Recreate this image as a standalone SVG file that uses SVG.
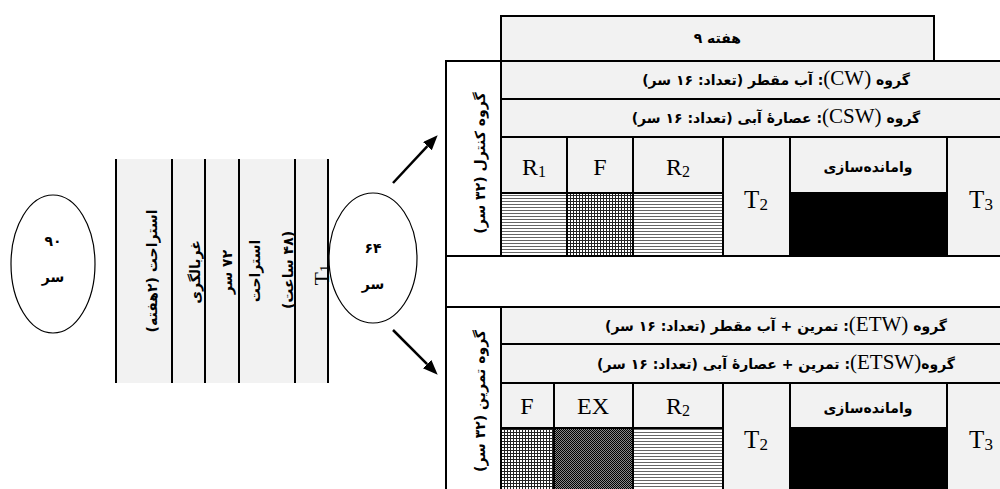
<svg xmlns="http://www.w3.org/2000/svg" width="1000" height="489" viewBox="0 0 1000 489">
<style>
.fa{font-family:"DejaVu Sans",sans-serif;font-weight:bold;font-size:14px;fill:#000}
.lat{font-family:"Liberation Serif",serif;font-weight:normal;fill:#000}
.cell{fill:#f2f2f2;stroke:#000;stroke-width:2}
.wcell{fill:#fff;stroke:#000;stroke-width:2}
.blk{fill:#000;stroke:#000;stroke-width:2}
.ln{stroke:#000;stroke-width:2;fill:none}
.ell{fill:#fff;stroke:#000;stroke-width:1.2}
.arr{stroke:#000;stroke-width:2.5;fill:none}
.mid{text-anchor:middle}
</style>
<defs>
<pattern id="hz" width="4" height="3" patternUnits="userSpaceOnUse"><rect width="4" height="3" fill="#fff"/><rect width="4" height="1" fill="#666"/></pattern>
<pattern id="grid" width="3" height="3" patternUnits="userSpaceOnUse"><rect width="3" height="3" fill="#fff"/><rect width="3" height="1" fill="#222"/><rect width="1" height="3" fill="#222"/></pattern>
<pattern id="chk" width="2" height="2" patternUnits="userSpaceOnUse"><rect width="2" height="2" fill="#888"/><rect width="1" height="1" fill="#000"/><rect x="1" y="1" width="1" height="1" fill="#000"/></pattern>
<marker id="ah" markerUnits="userSpaceOnUse" markerWidth="16" markerHeight="14" refX="0" refY="6" orient="auto"><path d="M0,0 L15,6 L0,12 z" fill="#000"/></marker>
</defs>

<g id="node-90">
<ellipse class="ell" cx="53" cy="264" rx="42" ry="69"/>
<text class="fa mid" x="53" y="246" font-size="16">۹۰</text>
<text class="fa mid" x="53" y="282" font-size="16">سر</text>
</g>

<g id="node-strip">
<rect x="116" y="159" width="212" height="224" fill="#f2f2f2"/>
<line class="ln" x1="116" y1="159" x2="116" y2="383"/>
<line class="ln" x1="172" y1="159" x2="172" y2="383"/>
<line class="ln" x1="205" y1="159" x2="205" y2="383"/>
<line class="ln" x1="239" y1="159" x2="239" y2="383"/>
<line class="ln" x1="295" y1="159" x2="295" y2="383"/>
<line class="ln" x1="328" y1="159" x2="328" y2="383"/>
<text class="fa mid" direction="rtl" dominant-baseline="central" transform="translate(152,271) rotate(-90)" font-size="15">استراحت (۲هفته)</text>
<text class="fa mid" direction="rtl" dominant-baseline="central" transform="translate(195,272) rotate(-90)" font-size="15">غربالگری</text>
<text class="fa mid" direction="rtl" dominant-baseline="central" transform="translate(227,272) rotate(-90)" font-size="15">۷۲ سر</text>
<text class="fa mid" direction="rtl" dominant-baseline="central" transform="translate(255,271) rotate(-90)" font-size="15">استراحت</text>
<text class="fa mid" direction="rtl" dominant-baseline="central" transform="translate(288,270) rotate(-90)" font-size="15">(۴۸ ساعت)</text>
<text class="lat mid" dominant-baseline="central" transform="translate(321,275) rotate(-90)" font-size="22">T<tspan font-size="15" dy="4">1</tspan></text>
</g>

<g id="node-64">
<ellipse class="ell" cx="373" cy="258" rx="44" ry="65"/>
<text class="fa mid" x="373" y="253" font-size="15">۶۴</text>
<text class="fa mid" x="373" y="289" font-size="15">سر</text>
</g>

<g id="connectors">
<line class="arr" x1="393" y1="183" x2="427.4" y2="146.2" marker-end="url(#ah)"/>
<line class="arr" x1="393" y1="330" x2="427.1" y2="364.1" marker-end="url(#ah)"/>
</g>

<g id="node-weeks">
<rect class="cell" x="501" y="16" width="433" height="45"/>
<text class="fa mid" y="43" font-size="15"><tspan x="698">۹</tspan><tspan x="724">هفته</tspan></text>
</g>

<g id="node-control">
<rect class="wcell" x="446" y="61" width="570" height="195"/>
<rect class="cell" x="501" y="61" width="515" height="38"/>
<rect class="cell" x="501" y="99" width="515" height="38"/>
<rect class="cell" x="501" y="137" width="66" height="56"/>
<rect class="cell" x="567" y="137" width="66" height="56"/>
<rect class="cell" x="633" y="137" width="90" height="56"/>
<rect class="cell" x="723" y="137" width="67" height="119"/>
<rect class="cell" x="790" y="137" width="157" height="56"/>
<rect class="blk" x="790" y="193" width="157" height="63"/>
<rect class="cell" x="947" y="137" width="69" height="119"/>
<rect x="501" y="193" width="66" height="63" fill="url(#hz)" stroke="#000" stroke-width="2"/>
<rect x="567" y="193" width="66" height="63" fill="url(#grid)" stroke="#000" stroke-width="2"/>
<rect x="633" y="193" width="90" height="63" fill="url(#hz)" stroke="#000" stroke-width="2"/>
<text class="fa mid" direction="rtl" dominant-baseline="central" transform="translate(480,163) rotate(-90)" font-size="16.5">گروه کنترل (۳۲ سر)</text>
<text class="fa mid" direction="rtl" x="776" y="85" font-size="15.5">گروه <tspan class="lat" font-size="21">(CW)</tspan>: آب مقطر (تعداد: ۱۶ سر)</text>
<text class="fa mid" direction="rtl" x="776" y="123" font-size="15.5">گروه <tspan class="lat" font-size="21">(CSW)</tspan>: عصارهٔ آبی (تعداد: ۱۶ سر)</text>
<text class="lat mid" x="534" y="175" font-size="24">R<tspan font-size="16" dy="2">1</tspan></text>
<text class="lat mid" x="600" y="175" font-size="24">F</text>
<text class="lat mid" x="678" y="175" font-size="24">R<tspan font-size="16" dy="2">2</tspan></text>
<text class="lat mid" x="756" y="208" font-size="25">T<tspan font-size="17" dy="2">2</tspan></text>
<text class="fa mid" direction="rtl" x="868" y="172" font-size="15">وامانده‌سازی</text>
<text class="lat mid" x="981" y="208" font-size="25">T<tspan font-size="17" dy="2">3</tspan></text>
</g>

<g id="node-gap">
<rect class="wcell" x="446" y="256" width="570" height="51"/>
</g>

<g id="node-exercise">
<rect class="wcell" x="446" y="307" width="570" height="190"/>
<rect class="cell" x="501" y="307" width="515" height="37"/>
<rect class="cell" x="501" y="344" width="515" height="39"/>
<rect class="cell" x="501" y="383" width="53" height="45"/>
<rect class="cell" x="554" y="383" width="79" height="45"/>
<rect class="cell" x="633" y="383" width="90" height="45"/>
<rect class="cell" x="723" y="383" width="67" height="114"/>
<rect class="cell" x="790" y="383" width="157" height="45"/>
<rect class="blk" x="790" y="428" width="157" height="69"/>
<rect class="cell" x="947" y="383" width="69" height="114"/>
<rect x="501" y="428" width="53" height="69" fill="url(#grid)" stroke="#000" stroke-width="2"/>
<rect x="554" y="428" width="79" height="69" fill="url(#chk)" stroke="#000" stroke-width="2"/>
<rect x="633" y="428" width="90" height="69" fill="url(#hz)" stroke="#000" stroke-width="2"/>
<text class="fa mid" direction="rtl" dominant-baseline="central" transform="translate(480,401) rotate(-90)" font-size="16.5">گروه تمرین (۳۲ سر)</text>
<text class="fa mid" direction="rtl" x="776" y="331" font-size="15.5">گروه <tspan class="lat" font-size="21">(ETW)</tspan>: تمرین + آب مقطر (تعداد: ۱۶ سر)</text>
<text class="fa mid" direction="rtl" x="776" y="369" font-size="15.5">گروه<tspan class="lat" font-size="21">(ETSW)</tspan>: تمرین + عصارهٔ آبی (تعداد: ۱۶ سر)</text>
<text class="lat mid" x="527" y="414" font-size="24">F</text>
<text class="lat mid" x="593" y="414" font-size="24">EX</text>
<text class="lat mid" x="678" y="414" font-size="24">R<tspan font-size="16" dy="2">2</tspan></text>
<text class="lat mid" x="756" y="448" font-size="25">T<tspan font-size="17" dy="2">2</tspan></text>
<text class="fa mid" direction="rtl" x="868" y="413" font-size="15">وامانده‌سازی</text>
<text class="lat mid" x="981" y="448" font-size="25">T<tspan font-size="17" dy="2">3</tspan></text>
</g>
</svg>
